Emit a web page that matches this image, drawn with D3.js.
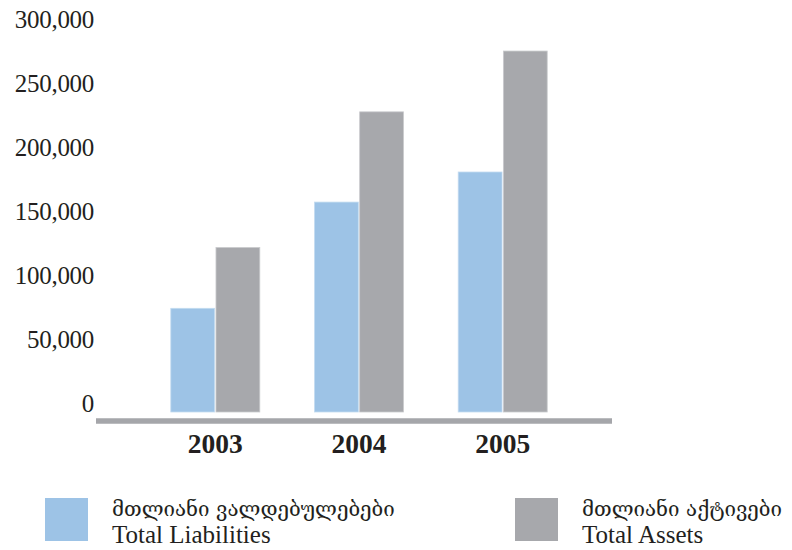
<!DOCTYPE html>
<html>
<head>
<meta charset="utf-8">
<script src="https://cdn.jsdelivr.net/npm/d3@7"></script>
<style>
  html, body { margin: 0; padding: 0; background: #fff; }
  svg { display: block; }
  .serif { font-family: "Liberation Serif", "DejaVu Serif", serif; fill: #231f20; }
  .geo { font-family: "DejaVu Serif", "DejaVu Sans", serif; fill: #231f20; }
</style>
</head>
<body>
<svg id="chart" width="792" height="550"></svg>
<script>
// Balance sheet totals by year
const years = ["2003", "2004", "2005"];
const liabilities = [81000, 164000, 187500];
const assets = [128500, 234500, 282000];
const yTicks = [0, 50000, 100000, 150000, 200000, 250000, 300000];
const seriesNames = [
  { ka: "მთლიანი ვალდებულებები", en: "Total Liabilities" },
  { ka: "მთლიანი აქტივები", en: "Total Assets" }
];
const colors = ["#9dc3e6", "#a7a8ac"];
const edgeColors = ["#c3dbf0", "#c9cacd"];

const svg = d3.select("#chart");

const y = d3.scaleLinear().domain([0, 300000]).range([412, 28]);
const xCenter = d3.scalePoint().domain(years).range([215.3, 502.7]);
const xSeries = d3.scaleBand().domain([0, 1]).range([-44.5, 44.5]).paddingInner(0.03);

// value axis labels
svg.append("g").selectAll("text")
  .data(yTicks)
  .join("text")
  .attr("class", "serif")
  .attr("x", 94)
  .attr("y", d => y(d))
  .attr("text-anchor", "end")
  .style("font-size", "25px")
  .style("letter-spacing", "-0.3px")
  .text(d => d3.format(",")(d));

// bars
const rows = years.map((yr, i) => ({ year: yr, values: [liabilities[i], assets[i]] }));
const groups = svg.append("g").selectAll("g")
  .data(rows)
  .join("g")
  .attr("transform", d => `translate(${xCenter(d.year)},0)`);

groups.selectAll("rect")
  .data(d => d.values.map((v, s) => ({ v, s })))
  .join("rect")
  .attr("x", d => xSeries(d.s))
  .attr("width", xSeries.bandwidth())
  .attr("y", d => y(d.v))
  .attr("height", d => y(0) - y(d.v))
  .attr("fill", d => colors[d.s])
  .attr("stroke", d => edgeColors[d.s])
  .attr("stroke-width", 0.8);

// base line
svg.append("line")
  .attr("x1", 96).attr("x2", 612)
  .attr("y1", 421).attr("y2", 421)
  .attr("stroke", "#a5a6aa")
  .attr("stroke-width", 5.5);

// year labels
svg.append("g").selectAll("text")
  .data(years)
  .join("text")
  .attr("class", "serif")
  .attr("x", d => xCenter(d))
  .attr("y", 453)
  .attr("text-anchor", "middle")
  .style("font-size", "27.5px")
  .style("font-weight", "bold")
  .text(d => d);

// legend
const legendX = [45, 515];
const legend = svg.append("g").selectAll("g")
  .data(seriesNames)
  .join("g")
  .attr("transform", (d, i) => `translate(${legendX[i]},498)`);

legend.append("rect")
  .attr("width", 43).attr("height", 43)
  .attr("fill", (d, i) => colors[i]);

legend.append("text")
  .attr("class", "geo")
  .attr("x", 67).attr("y", 18)
  .style("font-size", "20.5px")
  .text(d => d.ka);

legend.append("text")
  .attr("class", "serif")
  .attr("x", 67).attr("y", 45)
  .style("font-size", "25px")
  .text(d => d.en);
</script>
</body>
</html>
